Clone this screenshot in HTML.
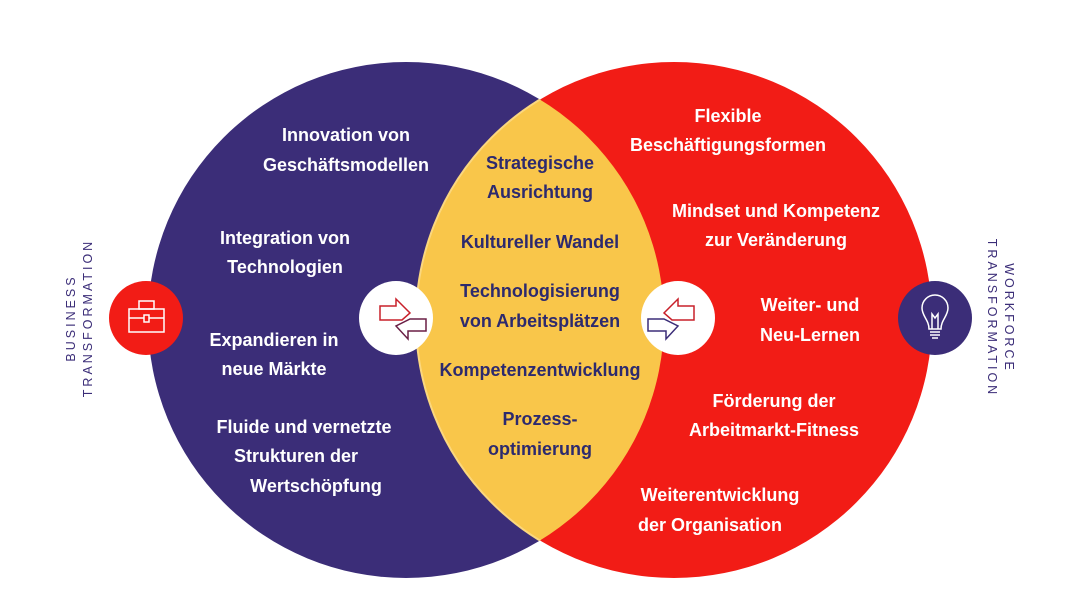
<!DOCTYPE html>
<html><head><meta charset="utf-8"><style>
html,body{margin:0;padding:0;background:#fff;}
svg{display:block;}
text{font-family:"Liberation Sans",sans-serif;font-weight:bold;}
</style></head><body>
<svg width="1080" height="608" viewBox="0 0 1080 608" xmlns="http://www.w3.org/2000/svg">
<defs><clipPath id="cl"><circle cx="406" cy="320" r="258"/></clipPath></defs>
<circle cx="406" cy="320" r="258" fill="#3b2d78"/>
<circle cx="674" cy="320" r="258" fill="#f21c16"/>
<circle cx="674" cy="320" r="258" fill="#f9c64a" stroke="#fbd77e" stroke-width="2" clip-path="url(#cl)"/>

<g fill="#fff" font-size="18" text-anchor="middle">
<text x="346" y="141">Innovation von</text>
<text x="346" y="171">Geschäftsmodellen</text>
<text x="285" y="244">Integration von</text>
<text x="285" y="273">Technologien</text>
<text x="274" y="346">Expandieren in</text>
<text x="274" y="375">neue Märkte</text>
<text x="304" y="433">Fluide und vernetzte</text>
<text x="296" y="462">Strukturen der</text>
<text x="316" y="492">Wertschöpfung</text>

<text x="728" y="122">Flexible</text>
<text x="728" y="151">Beschäftigungsformen</text>
<text x="776" y="217">Mindset und Kompetenz</text>
<text x="776" y="246">zur Veränderung</text>
<text x="810" y="311">Weiter- und</text>
<text x="810" y="341">Neu-Lernen</text>
<text x="774" y="407">Förderung der</text>
<text x="774" y="436">Arbeitmarkt-Fitness</text>
<text x="720" y="501">Weiterentwicklung</text>
<text x="710" y="531">der Organisation</text>
</g>
<g fill="#2d2a6e" font-size="18" text-anchor="middle">
<text x="540" y="169">Strategische</text>
<text x="540" y="198">Ausrichtung</text>
<text x="540" y="248">Kultureller Wandel</text>
<text x="540" y="297">Technologisierung</text>
<text x="540" y="327">von Arbeitsplätzen</text>
<text x="540" y="376">Kompetenzentwicklung</text>
<text x="540" y="425">Prozess-</text>
<text x="540" y="455">optimierung</text>
</g>

<!-- side icons -->
<circle cx="146" cy="318" r="37" fill="#f21c16"/>
<g fill="none" stroke="#fff" stroke-width="1.5">
<rect x="129" y="309" width="35" height="23"/>
<path d="M129 318 L164 318"/>
<rect x="139" y="301" width="15" height="8"/>
<rect x="144" y="315" width="5" height="7" fill="#f21c16"/>
</g>
<circle cx="935" cy="318" r="37" fill="#3b2d78"/>
<g fill="none" stroke="#fff" stroke-width="1.5">
<path d="M929 329 C929 320 922 316 922 308 A13 13 0 0 1 948 308 C948 316 941 320 941 329 Z"/>
<path d="M930 332 L940 332 M930 335 L940 335 M932 338 L938 338"/>
<path d="M932 329 L932 314 L935 318 L938 314 L938 329"/>
</g>

<!-- arrow circles -->
<circle cx="396" cy="318" r="37" fill="#fff"/>
<g fill="none" stroke-width="1.5">
<path d="M380 306 H396 V299 L410 313 L402 320 H380 Z" stroke="#c8202a"/>
<path d="M426 319 H410 L396 326 L408 339 V331 H426 Z" stroke="#6a1f45"/>
</g>
<circle cx="678" cy="318" r="37" fill="#fff"/>
<g fill="none" stroke-width="1.5">
<path d="M694 306 H678 V299 L664 313 L672 320 H694 Z" stroke="#c8202a"/>
<path d="M648 319 H664 L678 326 L666 339 V331 H648 Z" stroke="#3b2d78"/>
</g>

<g fill="#3b2d78" font-size="12.5" text-anchor="middle" letter-spacing="3">
<text transform="translate(75,318) rotate(-90)" style="font-weight:normal">BUSINESS</text>
<text transform="translate(92,318) rotate(-90)" style="font-weight:normal">TRANSFORMATION</text>
<text transform="translate(1005,318) rotate(90)" style="font-weight:normal">WORKFORCE</text>
<text transform="translate(988,318) rotate(90)" style="font-weight:normal">TRANSFORMATION</text>
</g>
</svg>
</body></html>
